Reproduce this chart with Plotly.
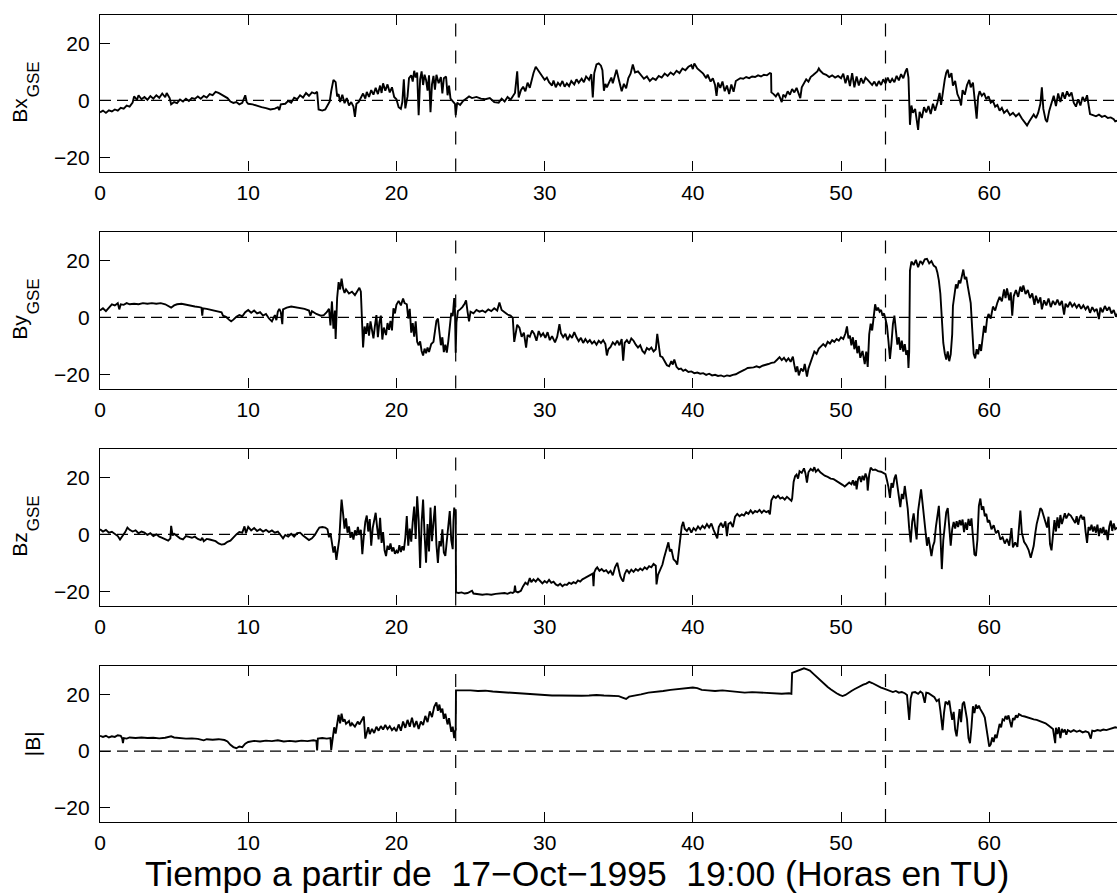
import plotly.graph_objects as go

# ---- Magnetic field components (nT) versus hours since 17-Oct-1995 19:00 ----
bx_samples = [
    (0.0, -4.2), (0.2, -3.6), (0.4, -4.4), (0.6, -3.5), (0.8, -3.9), (1.0, -3.2), (1.2, -3.6), (1.4, -2.6),
    (1.6, -2.9), (1.8, -1.8), (2.0, -2.2), (2.2, -0.8), (2.3, 1.4), (2.5, 0.2), (2.6, 1.8), (2.8, 0.4),
    (3.0, 1.2), (3.2, 0.2), (3.4, 1.5), (3.6, 0.6), (3.8, 1.8), (4.0, 0.9), (4.2, 2.4), (4.4, 1.1),
    (4.5, 2.6), (4.7, 0.8), (4.8, -1.4), (5.0, -0.6), (5.2, -1.0), (5.4, 0.3), (5.6, -0.4), (5.8, 0.6),
    (6.0, -0.2), (6.2, 0.8), (6.4, 0.5), (6.6, 1.4), (6.8, 0.6), (7.0, 1.6), (7.2, 1.0), (7.4, 2.2),
    (7.6, 1.8), (7.8, 3.0), (8.0, 2.6), (8.2, 2.0), (8.4, 1.4), (8.6, 0.8), (8.8, -0.4), (9.0, -0.9),
    (9.2, -0.6), (9.4, -1.4), (9.6, -0.9), (9.8, 1.8), (9.9, -0.6), (10.0, -1.2), (10.3, -1.4), (10.6, -2.0),
    (10.9, -2.4), (11.2, -2.7), (11.5, -3.2), (11.8, -2.9), (12.0, -2.4), (12.1, -3.4), (12.2, -1.4), (12.5, -1.2),
    (12.7, -0.2), (12.9, -0.8), (13.1, 0.9), (13.3, 0.4), (13.5, 1.8), (13.7, 1.0), (13.9, 2.6), (14.1, 1.6),
    (14.3, 2.8), (14.5, 2.4), (14.65, 3.0), (14.75, -3.2), (15.0, -3.6), (15.2, -3.2), (15.35, -1.8), (15.5, -0.4),
    (15.6, 3.2), (15.75, 7.2), (15.9, 6.4), (16.0, 1.4), (16.1, 2.2), (16.2, -0.6), (16.35, 2.0), (16.5, -1.0),
    (16.65, 0.8), (16.8, -1.8), (16.95, -0.6), (17.1, -2.2), (17.2, -5.8), (17.3, -1.2), (17.45, -0.6), (17.6, 0.8),
    (17.75, 2.4), (17.9, 0.6), (18.0, 3.0), (18.15, 1.2), (18.3, 3.6), (18.45, 2.0), (18.6, 4.4), (18.75, 2.2),
    (18.9, 5.2), (19.0, 2.6), (19.1, 6.0), (19.25, 3.4), (19.4, 5.6), (19.55, 2.8), (19.7, 4.6), (19.85, 1.2),
    (20.0, 0.4), (20.15, -2.4), (20.3, -3.0), (20.4, -0.6), (20.5, 7.4), (20.6, -2.8), (20.75, 1.4), (20.85, 7.8),
    (21.0, 8.8), (21.1, 6.6), (21.2, 10.4), (21.3, 8.0), (21.4, 9.8), (21.5, -5.2), (21.6, 7.4), (21.7, 10.2),
    (21.8, 5.4), (21.9, 9.0), (22.0, 7.2), (22.1, 3.4), (22.2, 8.8), (22.3, -4.2), (22.4, 5.6), (22.5, 8.6),
    (22.6, 3.8), (22.7, 9.0), (22.85, 6.0), (23.0, 8.2), (23.1, 2.4), (23.2, 7.8), (23.35, 8.4), (23.45, 1.8),
    (23.55, 5.2), (23.65, 0.6), (23.8, -0.4), (23.95, -1.2), (24.0, -5.2), (24.1, -0.8), (24.3, -1.6), (24.5, -0.2),
    (24.7, 0.6), (24.9, 1.4), (25.1, 0.8), (25.4, 1.2), (25.7, 0.6), (26.0, 0.4), (26.3, 0.8), (26.6, -0.6),
    (26.9, -0.8), (27.1, 0.6), (27.3, -0.4), (27.5, 1.2), (27.7, 0.2), (27.9, 1.8), (28.0, 2.6), (28.15, 10.2),
    (28.25, 1.0), (28.4, 3.6), (28.55, 4.8), (28.7, 3.2), (28.85, 6.2), (29.0, 4.4), (29.1, 6.8), (29.25, 9.6),
    (29.4, 11.8), (29.55, 10.6), (29.7, 9.4), (29.85, 8.6), (30.0, 7.2), (30.15, 8.0), (30.3, 6.4), (30.5, 5.2),
    (30.6, 7.0), (30.75, 4.6), (30.9, 6.2), (31.05, 5.2), (31.2, 6.8), (31.35, 4.8), (31.5, 6.0), (31.65, 5.0),
    (31.8, 6.8), (32.0, 5.6), (32.15, 7.4), (32.3, 6.2), (32.5, 7.6), (32.65, 6.4), (32.8, 8.4), (33.0, 7.2),
    (33.15, 9.2), (33.25, 1.0), (33.35, 9.6), (33.5, 12.6), (33.65, 13.0), (33.8, 12.2), (33.9, 10.6), (34.0, 3.4),
    (34.1, 5.8), (34.2, 4.6), (34.35, 6.4), (34.5, 8.0), (34.6, 6.0), (34.75, 9.2), (34.85, 10.8), (35.0, 7.4),
    (35.1, 5.2), (35.2, 3.2), (35.35, 5.8), (35.5, 4.2), (35.65, 7.8), (35.8, 9.4), (35.95, 12.6), (36.1, 9.8),
    (36.3, 10.2), (36.5, 8.8), (36.7, 7.6), (36.9, 8.4), (37.1, 6.8), (37.3, 7.8), (37.5, 7.2), (37.7, 8.6),
    (37.9, 8.0), (38.1, 9.4), (38.3, 8.6), (38.5, 9.8), (38.7, 9.0), (38.9, 10.4), (39.1, 9.6), (39.3, 11.2),
    (39.5, 10.6), (39.7, 11.8), (39.9, 12.4), (40.0, 11.0), (40.1, 13.0), (40.3, 11.2), (40.5, 10.2), (40.7, 9.4),
    (40.9, 7.8), (41.0, 9.0), (41.2, 6.6), (41.35, 7.8), (41.5, 5.4), (41.6, 1.6), (41.7, 6.2), (41.85, 4.4),
    (42.0, 6.6), (42.15, 3.2), (42.3, 5.2), (42.45, 2.2), (42.6, 5.6), (42.75, 3.0), (42.9, 6.8), (43.05, 7.2),
    (43.2, 7.8), (43.4, 7.6), (43.6, 8.2), (43.8, 7.8), (44.0, 8.4), (44.2, 8.2), (44.4, 8.8), (44.6, 8.4),
    (44.8, 9.0), (45.0, 8.8), (45.2, 9.6), (45.28, 9.4), (45.3, 2.8), (45.45, 2.2), (45.6, 1.4), (45.75, 2.6),
    (45.9, 0.8), (46.0, -0.6), (46.1, 2.0), (46.25, 1.2), (46.4, 3.2), (46.55, 2.0), (46.7, 4.0), (46.85, 2.8),
    (47.0, 4.4), (47.1, 3.0), (47.25, 0.8), (47.35, 4.6), (47.5, 6.0), (47.65, 7.4), (47.8, 6.6), (47.95, 8.2),
    (48.1, 8.8), (48.25, 9.6), (48.4, 10.2), (48.5, 11.2), (48.6, 10.4), (48.8, 9.4), (49.0, 9.0), (49.2, 8.2),
    (49.4, 8.8), (49.6, 8.0), (49.8, 8.6), (50.0, 7.8), (50.15, 9.4), (50.3, 6.0), (50.45, 8.8), (50.6, 5.0),
    (50.75, 9.6), (50.9, 4.6), (51.05, 8.4), (51.2, 5.2), (51.35, 7.8), (51.5, 6.0), (51.65, 8.0), (51.8, 7.2),
    (51.95, 6.2), (52.1, 5.4), (52.25, 6.6), (52.4, 5.0), (52.55, 6.8), (52.7, 5.4), (52.85, 7.4), (53.0, 6.0),
    (53.15, 8.0), (53.3, 6.2), (53.45, 7.6), (53.6, 6.4), (53.75, 8.6), (53.9, 7.0), (54.05, 9.2), (54.2, 7.8),
    (54.35, 10.2), (54.45, 11.2), (54.55, 8.0), (54.6, -0.6), (54.65, -8.6), (54.75, -1.8), (54.85, -4.4), (55.0, -3.0),
    (55.1, -6.0), (55.2, -10.4), (55.3, -4.0), (55.45, -6.2), (55.6, -2.4), (55.75, -4.2), (55.9, -2.0), (56.05, -4.8),
    (56.2, -1.2), (56.35, -3.6), (56.5, -0.8), (56.65, 2.6), (56.75, -1.6), (56.9, 4.8), (57.0, 7.4), (57.1, 9.8),
    (57.2, 10.8), (57.3, 8.0), (57.45, 9.6), (57.55, 5.2), (57.7, 6.8), (57.85, 2.2), (58.0, 0.4), (58.1, -1.8),
    (58.2, 3.6), (58.35, 2.0), (58.5, 5.4), (58.65, 7.2), (58.75, 4.6), (58.9, 6.2), (59.0, 2.0), (59.15, -6.4),
    (59.25, 1.2), (59.35, 3.2), (59.5, 1.6), (59.65, 2.6), (59.8, 0.4), (59.95, 1.4), (60.1, -0.8), (60.25, -0.2),
    (60.4, -2.2), (60.55, -1.6), (60.7, -3.6), (60.85, -2.6), (61.0, -4.4), (61.2, -3.4), (61.4, -5.2), (61.6, -4.4),
    (61.8, -5.6), (62.0, -4.6), (62.2, -6.4), (62.4, -7.6), (62.55, -8.8), (62.7, -7.4), (62.85, -6.2), (63.0, -5.0),
    (63.15, -6.2), (63.3, -4.4), (63.45, -1.2), (63.55, 4.6), (63.65, -3.0), (63.8, -6.8), (63.9, -7.6), (64.05, -3.6),
    (64.2, -1.0), (64.35, 1.6), (64.5, -2.0), (64.65, 2.4), (64.8, -0.6), (64.95, 2.8), (65.1, 0.6), (65.25, 3.2),
    (65.4, 1.4), (65.55, 2.8), (65.7, -0.8), (65.85, -2.2), (66.0, 0.4), (66.15, -1.8), (66.3, 1.2), (66.45, -0.4),
    (66.6, 1.8), (66.7, -2.0), (66.8, -4.8), (67.0, -5.2), (67.2, -5.6), (67.4, -5.0), (67.6, -5.8), (67.8, -5.4),
    (68.0, -6.2), (68.2, -6.0), (68.4, -6.6), (68.5, -7.4), (68.7, -7.0), (69.0, -7.2),
]

by_samples = [
    (0.0, 2.4), (0.2, 3.2), (0.4, 2.2), (0.6, 3.6), (0.8, 4.6), (1.0, 4.2), (1.2, 5.0), (1.3, 2.8),
    (1.4, 4.6), (1.6, 4.4), (1.8, 5.0), (2.0, 4.6), (2.3, 4.8), (2.6, 4.6), (2.9, 5.0), (3.2, 4.8),
    (3.5, 5.0), (3.8, 4.8), (4.1, 5.0), (4.4, 4.6), (4.6, 4.0), (4.8, 3.4), (5.0, 4.2), (5.2, 4.6),
    (5.5, 4.8), (5.8, 4.4), (6.1, 4.2), (6.4, 3.8), (6.7, 3.6), (6.85, 3.4), (6.9, 0.6), (6.95, 3.2),
    (7.2, 3.0), (7.5, 2.6), (7.8, 2.4), (8.0, 2.2), (8.2, 1.8), (8.3, 0.6), (8.5, 0.2), (8.7, -0.8),
    (8.85, -1.4), (9.0, -0.8), (9.2, 0.2), (9.4, 0.8), (9.6, 0.4), (9.8, 1.8), (10.0, 2.6), (10.2, 1.6),
    (10.4, 2.4), (10.6, 1.4), (10.8, 1.8), (11.0, 0.6), (11.2, 1.2), (11.4, -0.4), (11.6, -1.4), (11.8, 0.8),
    (11.9, -1.0), (12.0, 2.0), (12.1, 3.0), (12.2, 1.8), (12.3, -2.4), (12.35, 2.8), (12.6, 3.4), (12.9, 3.8),
    (13.2, 3.6), (13.5, 3.4), (13.8, 3.0), (14.1, 2.4), (14.2, 0.6), (14.3, 2.2), (14.6, 1.2), (14.9, 0.6),
    (15.1, 0.8), (15.3, 1.8), (15.45, 3.0), (15.55, -2.8), (15.65, 5.6), (15.75, -4.0), (15.85, 2.4), (15.9, -7.6),
    (16.0, 6.8), (16.1, 12.4), (16.2, 9.8), (16.3, 13.6), (16.4, 10.2), (16.5, 8.6), (16.6, 9.8), (16.8, 8.4),
    (17.0, 9.0), (17.2, 7.8), (17.4, 9.6), (17.5, 10.4), (17.6, 9.0), (17.65, 0.4), (17.75, -10.6), (17.85, -3.2),
    (17.95, -5.8), (18.05, -2.0), (18.15, -6.4), (18.25, -1.4), (18.35, -4.8), (18.45, -7.4), (18.55, -3.0), (18.65, 0.8),
    (18.75, -7.0), (18.85, -1.8), (18.95, 0.6), (19.05, -7.8), (19.15, -3.6), (19.3, -6.2), (19.4, -2.0), (19.5, -4.4),
    (19.6, -1.2), (19.7, -4.6), (19.8, 3.2), (19.9, 1.4), (20.0, 4.4), (20.15, 5.8), (20.3, 4.2), (20.45, 6.6),
    (20.55, 5.0), (20.7, 4.6), (20.8, -0.4), (20.9, 3.0), (21.0, -5.4), (21.1, -2.0), (21.2, -6.8), (21.3, -1.4),
    (21.4, -8.6), (21.5, -9.8), (21.6, -8.4), (21.7, -11.8), (21.8, -13.4), (21.9, -11.0), (22.0, -12.6), (22.1, -10.6),
    (22.2, -12.2), (22.35, -9.4), (22.5, -8.6), (22.6, -5.2), (22.7, -1.2), (22.8, -0.4), (22.9, -5.6), (23.0, -9.8),
    (23.1, -7.0), (23.2, -12.2), (23.3, -9.6), (23.4, -12.4), (23.5, -8.4), (23.6, -3.6), (23.7, 1.6), (23.8, 0.4),
    (23.9, 6.8), (23.95, 2.4), (24.0, -12.4), (24.05, -1.8), (24.15, 2.2), (24.3, 2.8), (24.45, 3.6), (24.6, 4.8),
    (24.7, 6.0), (24.8, 2.0), (24.9, -1.4), (25.0, 2.0), (25.2, 1.4), (25.4, 2.6), (25.6, 2.0), (25.8, 2.4),
    (26.0, 1.8), (26.2, 2.8), (26.4, 2.2), (26.6, 3.2), (26.8, 2.4), (26.95, 5.2), (27.1, 2.6), (27.3, 1.8),
    (27.5, 1.0), (27.7, 0.6), (27.85, -0.2), (27.95, -8.6), (28.05, -4.8), (28.15, -2.6), (28.3, -3.6), (28.45, -6.8),
    (28.6, -5.4), (28.75, -10.6), (28.85, -6.2), (29.0, -6.8), (29.15, -4.6), (29.3, -5.8), (29.45, -8.2), (29.6, -4.8),
    (29.75, -6.6), (29.9, -5.6), (30.05, -7.2), (30.2, -5.2), (30.35, -8.0), (30.5, -6.6), (30.7, -8.8), (30.85, -6.8),
    (31.0, -2.4), (31.1, -5.6), (31.25, -7.0), (31.4, -5.8), (31.55, -8.0), (31.7, -6.2), (31.85, -7.2), (32.0, -5.2),
    (32.15, -7.0), (32.3, -8.4), (32.45, -7.2), (32.6, -9.0), (32.75, -7.6), (32.9, -8.8), (33.05, -8.0), (33.2, -9.2),
    (33.35, -8.4), (33.5, -9.6), (33.65, -8.2), (33.8, -9.0), (33.95, -8.0), (34.1, -9.4), (34.2, -13.4), (34.3, -11.2),
    (34.45, -10.4), (34.6, -8.8), (34.75, -9.6), (34.9, -8.2), (35.05, -9.8), (35.2, -7.6), (35.3, -15.2), (35.4, -9.0),
    (35.55, -8.0), (35.7, -9.2), (35.85, -7.4), (36.0, -8.2), (36.15, -9.6), (36.3, -10.6), (36.45, -9.8), (36.6, -11.8),
    (36.75, -12.6), (36.9, -10.8), (37.05, -11.4), (37.2, -10.6), (37.35, -12.0), (37.5, -11.2), (37.6, -5.8), (37.7, -10.4),
    (37.8, -13.6), (37.95, -14.0), (38.1, -15.6), (38.25, -16.8), (38.4, -17.2), (38.55, -15.4), (38.65, -16.6), (38.75, -14.8),
    (38.9, -17.4), (39.05, -18.2), (39.2, -18.0), (39.35, -18.8), (39.5, -18.4), (39.7, -19.2), (39.9, -19.0), (40.1, -19.6),
    (40.3, -19.4), (40.5, -19.8), (40.7, -19.6), (40.9, -20.2), (41.1, -19.8), (41.3, -20.4), (41.5, -20.2), (41.7, -20.6),
    (41.9, -20.4), (42.1, -20.8), (42.3, -20.4), (42.5, -20.6), (42.7, -20.2), (42.9, -20.0), (43.1, -19.4), (43.3, -19.0),
    (43.5, -18.4), (43.7, -17.8), (43.9, -17.8), (44.1, -17.6), (44.3, -17.2), (44.5, -17.6), (44.7, -17.0), (44.9, -16.8),
    (45.1, -16.4), (45.3, -16.0), (45.5, -15.8), (45.7, -14.8), (45.85, -14.0), (46.0, -15.0), (46.15, -14.2), (46.3, -15.4),
    (46.45, -14.4), (46.6, -15.6), (46.75, -13.8), (46.85, -16.8), (46.95, -19.2), (47.05, -17.2), (47.15, -20.4), (47.3, -18.0),
    (47.45, -19.0), (47.55, -16.4), (47.7, -20.8), (47.8, -18.0), (47.9, -16.6), (48.0, -15.0), (48.1, -13.4), (48.2, -12.0),
    (48.35, -12.8), (48.5, -11.0), (48.65, -10.2), (48.8, -9.4), (48.95, -10.2), (49.1, -8.6), (49.25, -9.2), (49.4, -8.0),
    (49.55, -8.6), (49.7, -7.6), (49.85, -8.2), (50.0, -7.0), (50.15, -7.6), (50.3, -5.6), (50.4, -3.2), (50.5, -7.4),
    (50.6, -6.4), (50.7, -9.8), (50.8, -7.0), (50.9, -11.2), (51.0, -8.0), (51.1, -12.6), (51.2, -10.0), (51.3, -14.2),
    (51.45, -11.8), (51.6, -16.4), (51.7, -12.0), (51.8, -17.4), (51.9, -6.0), (52.0, -2.2), (52.1, -4.6), (52.2, 1.4),
    (52.3, 4.6), (52.4, 2.4), (52.5, 3.4), (52.6, 2.0), (52.7, 2.6), (52.8, 0.6), (52.9, 1.4), (53.0, -0.6),
    (53.1, -3.0), (53.2, -8.4), (53.3, -14.6), (53.4, -9.2), (53.5, -2.4), (53.6, 0.6), (53.7, -4.4), (53.8, -9.6),
    (53.9, -7.0), (54.0, -11.4), (54.1, -8.2), (54.2, -12.0), (54.3, -9.4), (54.4, -13.2), (54.5, -11.6), (54.55, -17.8),
    (54.6, -12.0), (54.65, 16.4), (54.75, 19.6), (54.9, 18.4), (55.05, 20.2), (55.2, 17.6), (55.35, 19.8), (55.5, 18.8),
    (55.65, 20.4), (55.8, 20.6), (55.95, 19.0), (56.1, 19.8), (56.25, 18.2), (56.4, 17.6), (56.5, 15.8), (56.6, 13.0),
    (56.7, 8.4), (56.75, 3.0), (56.8, -2.0), (56.9, -9.0), (57.0, -12.6), (57.1, -14.8), (57.2, -12.0), (57.3, -15.4),
    (57.4, -13.0), (57.5, -6.0), (57.55, 4.0), (57.65, 8.8), (57.75, 11.6), (57.85, 10.2), (57.95, 13.0), (58.05, 12.0),
    (58.15, 14.8), (58.25, 16.8), (58.35, 13.4), (58.45, 14.2), (58.55, 11.0), (58.65, 8.2), (58.75, 5.0), (58.85, -4.0),
    (58.95, -12.8), (59.05, -14.4), (59.15, -11.2), (59.25, -13.0), (59.35, -9.4), (59.45, -11.8), (59.55, -6.0), (59.65, -3.0),
    (59.75, -5.4), (59.85, -0.6), (59.95, 1.2), (60.1, -0.4), (60.25, 3.8), (60.4, 2.4), (60.55, 5.2), (60.7, 7.2),
    (60.85, 5.6), (61.0, 9.8), (61.1, 6.8), (61.2, 10.2), (61.35, 6.0), (61.45, 8.8), (61.55, 0.6), (61.65, 7.4),
    (61.8, 9.6), (61.95, 7.2), (62.1, 10.8), (62.2, 9.0), (62.3, 11.2), (62.45, 8.2), (62.6, 9.6), (62.75, 6.8),
    (62.9, 8.4), (63.05, 4.4), (63.15, 7.6), (63.3, 5.0), (63.45, 7.0), (63.55, 2.8), (63.7, 6.0), (63.85, 4.2),
    (64.0, 6.6), (64.15, 3.6), (64.3, 5.8), (64.45, 4.4), (64.6, 6.2), (64.75, 4.2), (64.9, 5.8), (65.05, 1.0),
    (65.15, 4.8), (65.3, 3.6), (65.45, 5.4), (65.6, 3.8), (65.75, 4.8), (65.9, 3.4), (66.05, 4.6), (66.2, 3.0),
    (66.35, 4.2), (66.5, 2.8), (66.65, 4.0), (66.8, 1.6), (66.95, 3.6), (67.1, 2.2), (67.25, 3.0), (67.4, -0.6),
    (67.5, 3.4), (67.65, 1.8), (67.8, 4.0), (67.95, 2.4), (68.1, 3.6), (68.25, 1.4), (68.4, 2.6), (68.55, 0.2),
    (68.7, 1.8), (69.0, 0.8),
]

bz_samples = [
    (0.0, 1.8), (0.2, 1.0), (0.4, 1.6), (0.6, 0.6), (0.8, 0.9), (1.0, 0.2), (1.2, -0.6), (1.35, -1.8),
    (1.5, -0.8), (1.7, 0.8), (1.85, 2.4), (2.0, 1.6), (2.2, 1.0), (2.4, 1.4), (2.6, 0.4), (2.8, 1.0),
    (3.0, 0.6), (3.2, -0.2), (3.4, 0.4), (3.6, -0.6), (3.8, 0.0), (4.0, -0.8), (4.2, -1.2), (4.4, -1.6),
    (4.6, -2.2), (4.75, -1.4), (4.8, 3.0), (4.9, -0.4), (5.0, 0.2), (5.2, -0.6), (5.4, -1.4), (5.6, -1.8),
    (5.8, -0.6), (6.0, -0.9), (6.2, -1.2), (6.4, -0.8), (6.6, -1.6), (6.8, -2.0), (6.9, -1.2), (7.0, -2.4),
    (7.2, -1.6), (7.4, -1.8), (7.6, -2.2), (7.8, -2.4), (8.0, -3.2), (8.2, -3.6), (8.4, -3.4), (8.6, -2.6),
    (8.8, -2.2), (9.0, -1.0), (9.2, 0.0), (9.4, 0.8), (9.6, 0.6), (9.75, 2.8), (9.85, 0.4), (10.0, 2.6),
    (10.2, 1.4), (10.4, 2.2), (10.6, 1.2), (10.8, 1.8), (11.0, 1.0), (11.2, 1.6), (11.4, 0.8), (11.6, 1.4),
    (11.8, 0.6), (12.0, 1.0), (12.2, -0.6), (12.35, -1.4), (12.5, -0.2), (12.7, -0.8), (12.9, 0.2), (13.1, -0.8),
    (13.3, 0.4), (13.5, 0.6), (13.7, -0.4), (13.9, -1.2), (14.1, -2.0), (14.3, -1.4), (14.5, -0.2), (14.65, 1.2),
    (14.8, 2.4), (15.0, 2.6), (15.2, 2.4), (15.35, 1.8), (15.45, -1.0), (15.55, 0.4), (15.65, -2.6), (15.75, -6.4),
    (15.85, -4.2), (15.95, -9.0), (16.05, -5.2), (16.15, -1.4), (16.25, 8.2), (16.3, 12.2), (16.4, 7.4), (16.5, 2.0),
    (16.6, 5.6), (16.7, 0.6), (16.8, 2.8), (16.9, -1.2), (17.0, 0.8), (17.1, -1.8), (17.2, 1.4), (17.3, -0.4),
    (17.4, 2.6), (17.5, -0.2), (17.6, 1.6), (17.7, -7.0), (17.8, -0.6), (17.9, 4.4), (18.0, 6.6), (18.1, 1.0),
    (18.2, 5.4), (18.3, -4.0), (18.4, 2.2), (18.5, 4.6), (18.6, 7.6), (18.7, 2.4), (18.8, -1.8), (18.9, 5.8),
    (19.0, -3.0), (19.1, 0.8), (19.2, -5.6), (19.3, -7.6), (19.4, -4.0), (19.5, -5.4), (19.6, -3.2), (19.7, -6.0),
    (19.8, -4.6), (19.9, -6.8), (20.0, -5.8), (20.1, -6.6), (20.2, -3.8), (20.3, -6.2), (20.4, -4.2), (20.5, -5.6),
    (20.6, -1.2), (20.7, 6.4), (20.8, -4.0), (20.9, 2.0), (21.0, -2.6), (21.1, 4.4), (21.2, 9.8), (21.3, -1.6),
    (21.4, 13.4), (21.5, 5.0), (21.6, -11.8), (21.7, 4.0), (21.8, 12.2), (21.9, 0.0), (22.0, -10.0), (22.1, 3.6),
    (22.2, -6.0), (22.3, 9.4), (22.4, -2.4), (22.5, 4.2), (22.6, 10.0), (22.7, -3.6), (22.8, -10.0), (22.9, -2.4),
    (23.0, -4.2), (23.1, 1.8), (23.2, -6.4), (23.3, -7.6), (23.4, -3.0), (23.5, 2.2), (23.6, 8.2), (23.7, -2.0),
    (23.8, -5.2), (23.85, 4.8), (23.9, 9.4), (23.95, 7.6), (24.0, 8.8), (24.02, -20.4), (24.2, -20.6), (24.4, -20.4),
    (24.6, -20.8), (24.8, -20.6), (25.0, -20.2), (25.1, -19.8), (25.2, -20.8), (25.5, -21.0), (25.8, -21.2), (26.1, -21.0),
    (26.4, -21.2), (26.7, -20.9), (27.0, -20.8), (27.3, -20.6), (27.5, -20.9), (27.7, -20.4), (27.85, -20.6), (27.95, -20.2),
    (28.0, -18.0), (28.05, -20.0), (28.2, -20.4), (28.4, -19.8), (28.55, -18.2), (28.7, -17.0), (28.85, -17.6), (29.0, -15.4),
    (29.1, -16.8), (29.25, -15.8), (29.4, -16.6), (29.55, -15.6), (29.7, -16.4), (29.85, -17.2), (30.0, -16.4), (30.15, -17.0),
    (30.3, -16.0), (30.45, -17.0), (30.6, -16.6), (30.75, -17.6), (30.9, -18.0), (31.05, -17.4), (31.2, -18.2), (31.35, -17.6),
    (31.5, -17.8), (31.65, -17.0), (31.8, -17.4), (31.95, -16.8), (32.1, -17.2), (32.25, -16.2), (32.4, -16.6), (32.55, -15.8),
    (32.7, -15.4), (32.85, -15.0), (33.0, -14.6), (33.15, -14.2), (33.25, -13.8), (33.3, -18.2), (33.35, -13.4), (33.45, -12.2),
    (33.55, -11.6), (33.7, -12.8), (33.85, -12.2), (34.0, -13.0), (34.15, -12.6), (34.3, -13.6), (34.45, -12.8), (34.6, -14.4),
    (34.75, -11.6), (34.9, -10.0), (35.0, -12.6), (35.1, -14.6), (35.2, -15.8), (35.3, -16.6), (35.4, -14.0), (35.55, -12.4),
    (35.7, -13.6), (35.85, -12.4), (36.0, -13.2), (36.15, -12.2), (36.3, -12.8), (36.45, -12.0), (36.6, -12.6), (36.75, -11.6),
    (36.9, -12.2), (37.05, -11.2), (37.2, -11.6), (37.35, -10.4), (37.5, -11.0), (37.55, -17.6), (37.65, -14.2), (37.8, -12.4),
    (37.95, -10.6), (38.05, -8.4), (38.15, -6.4), (38.25, -4.0), (38.35, -2.8), (38.45, -6.0), (38.55, -5.2), (38.7, -8.8),
    (38.85, -9.6), (38.95, -10.6), (39.05, -6.0), (39.15, -1.4), (39.25, 2.8), (39.35, 4.4), (39.45, 2.0), (39.6, 1.2),
    (39.75, 2.4), (39.9, 0.6), (40.05, 2.2), (40.2, 1.4), (40.35, 2.8), (40.5, 1.8), (40.65, 3.0), (40.8, 2.2),
    (40.95, 3.6), (41.1, 2.4), (41.25, 3.8), (41.4, 1.6), (41.55, -0.4), (41.65, -1.4), (41.75, 2.6), (41.9, 4.0),
    (42.05, 2.4), (42.2, 4.6), (42.3, -0.6), (42.4, 3.6), (42.55, 4.2), (42.7, 2.6), (42.85, 6.2), (43.0, 7.2),
    (43.15, 6.4), (43.3, 7.0), (43.45, 6.6), (43.6, 7.8), (43.75, 7.2), (43.9, 8.4), (44.05, 7.4), (44.2, 8.2),
    (44.35, 7.8), (44.5, 8.6), (44.65, 7.6), (44.8, 8.4), (44.95, 7.8), (45.1, 8.2), (45.2, 7.0), (45.3, 12.0),
    (45.45, 13.4), (45.6, 12.8), (45.75, 13.6), (45.9, 12.6), (46.05, 13.0), (46.2, 12.2), (46.35, 13.2), (46.5, 12.4),
    (46.65, 11.8), (46.7, 12.6), (46.8, 18.4), (46.9, 20.4), (47.0, 21.0), (47.1, 19.6), (47.2, 22.2), (47.35, 21.6),
    (47.5, 23.2), (47.6, 21.4), (47.7, 18.2), (47.8, 21.8), (47.95, 23.0), (48.1, 22.4), (48.2, 23.6), (48.3, 22.0),
    (48.45, 22.8), (48.6, 21.8), (48.75, 21.2), (48.9, 20.6), (49.1, 20.2), (49.3, 19.6), (49.5, 19.4), (49.7, 18.8),
    (49.9, 18.0), (50.1, 17.4), (50.25, 16.8), (50.4, 17.4), (50.55, 18.2), (50.7, 17.6), (50.8, 19.0), (50.9, 17.2),
    (51.0, 18.8), (51.05, 15.8), (51.15, 19.4), (51.25, 20.4), (51.35, 18.4), (51.45, 20.6), (51.55, 19.0), (51.65, 21.4),
    (51.75, 19.8), (51.8, 15.4), (51.9, 21.0), (52.0, 23.4), (52.15, 22.6), (52.3, 22.8), (52.5, 22.2), (52.7, 22.0),
    (52.85, 21.6), (53.0, 21.2), (53.1, 19.0), (53.2, 16.6), (53.3, 12.8), (53.4, 18.0), (53.5, 16.4), (53.6, 19.6),
    (53.7, 21.0), (53.8, 17.2), (53.9, 14.6), (54.0, 9.6), (54.1, 14.2), (54.2, 12.4), (54.3, 17.0), (54.4, 13.8),
    (54.5, 9.0), (54.6, 2.0), (54.7, -2.8), (54.8, 4.4), (54.9, 7.4), (55.0, 2.6), (55.1, -1.8), (55.2, 8.2),
    (55.3, 12.6), (55.4, 15.8), (55.5, 11.0), (55.6, 6.0), (55.7, 2.4), (55.8, -4.0), (55.9, -1.0), (56.0, -5.0),
    (56.1, -7.6), (56.2, -4.2), (56.3, -2.6), (56.4, 2.6), (56.5, 6.4), (56.6, 10.0), (56.7, 0.4), (56.8, -12.2),
    (56.9, -2.0), (57.0, 3.6), (57.1, 7.8), (57.2, 9.2), (57.3, 2.4), (57.4, -4.0), (57.5, 1.8), (57.6, 4.4),
    (57.7, 2.0), (57.8, 4.6), (57.9, 2.6), (58.0, 5.0), (58.1, 3.2), (58.2, 5.2), (58.3, 0.8), (58.4, 4.2),
    (58.5, 1.6), (58.6, 5.4), (58.7, 3.0), (58.8, 5.6), (58.9, -0.8), (59.0, -7.0), (59.1, -7.6), (59.2, -2.0),
    (59.3, 10.0), (59.4, 12.6), (59.5, 8.6), (59.6, 9.8), (59.7, 6.4), (59.8, 7.2), (59.9, 4.2), (60.0, 5.0),
    (60.15, 1.8), (60.3, 3.2), (60.45, 0.4), (60.6, 1.4), (60.75, -1.8), (60.9, -1.0), (61.05, -3.2), (61.2, -1.6),
    (61.35, -4.0), (61.5, 2.2), (61.6, -4.6), (61.75, -2.8), (61.9, -4.4), (62.0, 1.4), (62.1, 8.4), (62.2, 0.6),
    (62.35, -2.6), (62.5, -3.8), (62.65, -5.4), (62.8, -8.2), (62.9, -6.0), (63.0, -4.0), (63.1, 0.2), (63.2, 3.6),
    (63.35, 6.8), (63.45, 9.2), (63.55, 8.6), (63.7, 6.0), (63.8, 5.0), (63.9, 2.4), (64.0, 6.2), (64.1, -3.4),
    (64.2, -5.6), (64.3, -0.4), (64.4, 5.0), (64.5, 1.0), (64.6, 6.0), (64.7, 2.2), (64.8, 6.8), (64.9, 3.6),
    (65.0, 5.6), (65.1, 7.4), (65.2, 5.6), (65.35, 7.2), (65.5, 6.6), (65.65, 5.4), (65.8, 4.0), (65.9, 6.4),
    (66.0, 3.4), (66.1, 5.8), (66.2, 6.8), (66.3, 5.2), (66.4, 6.2), (66.5, 1.0), (66.6, -3.0), (66.7, 2.6),
    (66.8, 1.4), (66.9, 3.4), (67.0, 1.0), (67.1, 2.8), (67.2, 0.6), (67.3, 3.4), (67.4, -0.6), (67.5, 2.2),
    (67.6, 0.4), (67.7, 2.6), (67.8, -0.2), (67.9, 1.6), (68.0, -2.0), (68.1, 2.8), (68.2, 4.8), (68.3, 1.2),
    (68.4, 3.8), (68.5, 1.8), (68.7, 2.6), (69.0, 1.4),
]

bmag_samples = [
    (0.0, 5.4), (0.2, 5.0), (0.4, 5.4), (0.6, 4.8), (0.8, 5.2), (1.0, 5.0), (1.2, 5.6), (1.4, 5.4),
    (1.5, 4.4), (1.55, 2.8), (1.6, 4.6), (1.8, 4.4), (2.0, 4.8), (2.4, 4.6), (2.8, 4.8), (3.2, 4.6),
    (3.6, 4.7), (4.0, 4.5), (4.4, 4.7), (4.8, 5.2), (5.0, 4.8), (5.4, 4.6), (5.8, 4.4), (6.2, 4.5),
    (6.6, 4.3), (7.0, 3.8), (7.2, 4.2), (7.6, 4.0), (8.0, 4.2), (8.4, 3.9), (8.6, 3.4), (8.8, 2.2),
    (9.0, 1.4), (9.2, 1.0), (9.4, 1.6), (9.6, 1.4), (9.8, 2.6), (10.0, 3.2), (10.4, 3.6), (10.8, 3.4),
    (11.2, 3.7), (11.6, 3.5), (12.0, 3.8), (12.4, 3.4), (12.8, 3.6), (13.2, 3.4), (13.6, 3.7), (14.0, 3.5),
    (14.4, 3.8), (14.6, 3.6), (14.65, 0.2), (14.7, 4.4), (15.0, 4.6), (15.3, 4.4), (15.55, 4.6), (15.6, 0.4),
    (15.7, 4.2), (15.8, 8.4), (15.9, 6.2), (16.0, 10.6), (16.1, 12.8), (16.2, 9.8), (16.3, 13.2), (16.4, 10.4),
    (16.5, 11.2), (16.6, 9.6), (16.8, 10.6), (16.9, 8.8), (17.0, 9.8), (17.2, 8.6), (17.4, 10.4), (17.5, 9.4),
    (17.7, 11.4), (17.8, 12.2), (17.9, 4.4), (18.0, 6.2), (18.1, 8.4), (18.2, 6.0), (18.35, 7.8), (18.5, 6.4),
    (18.65, 8.6), (18.8, 7.2), (18.95, 8.8), (19.1, 7.6), (19.25, 9.2), (19.4, 7.8), (19.55, 8.8), (19.7, 7.4),
    (19.85, 8.2), (20.0, 7.0), (20.15, 9.4), (20.3, 7.2), (20.45, 10.4), (20.6, 8.2), (20.75, 11.0), (20.9, 8.6),
    (21.05, 11.8), (21.2, 8.4), (21.35, 10.6), (21.5, 7.8), (21.65, 10.4), (21.8, 9.2), (21.95, 12.4), (22.1, 10.2),
    (22.25, 14.0), (22.4, 12.0), (22.55, 15.6), (22.7, 17.2), (22.8, 14.2), (22.9, 16.4), (23.0, 13.6), (23.1, 15.0),
    (23.2, 11.4), (23.3, 13.2), (23.45, 9.4), (23.55, 11.6), (23.7, 6.8), (23.8, 8.6), (23.9, 4.6), (23.95, 6.8),
    (24.0, 7.6), (24.02, 21.4), (24.5, 21.5), (25.0, 21.4), (25.5, 21.2), (26.0, 21.3), (26.5, 21.0), (27.0, 20.8),
    (27.5, 20.6), (28.0, 20.6), (28.5, 20.4), (29.0, 20.0), (29.5, 19.8), (30.0, 19.8), (30.5, 19.6), (31.0, 19.6),
    (31.5, 19.5), (32.0, 19.6), (32.5, 19.5), (33.0, 19.6), (33.5, 19.8), (34.0, 19.6), (34.5, 19.4), (35.0, 19.4),
    (35.3, 18.8), (35.5, 18.4), (35.7, 19.2), (36.0, 19.6), (36.5, 20.0), (37.0, 20.6), (37.5, 20.8), (38.0, 21.2),
    (38.5, 21.6), (39.0, 21.8), (39.5, 22.2), (40.0, 22.4), (40.3, 22.2), (40.6, 21.6), (41.0, 21.4), (41.5, 21.2),
    (42.0, 21.4), (42.5, 21.2), (43.0, 20.8), (43.5, 20.6), (44.0, 20.8), (44.5, 20.6), (45.0, 20.4), (45.5, 20.4),
    (46.0, 20.2), (46.5, 20.4), (46.65, 20.2), (46.7, 27.6), (46.9, 28.0), (47.1, 28.2), (47.3, 28.8), (47.5, 29.2),
    (47.7, 28.8), (47.9, 28.4), (48.1, 27.4), (48.3, 26.4), (48.5, 25.4), (48.7, 24.4), (48.9, 23.6), (49.1, 22.6),
    (49.3, 21.8), (49.5, 21.0), (49.7, 20.4), (49.9, 19.8), (50.1, 19.4), (50.3, 19.8), (50.5, 20.6), (50.7, 21.2),
    (50.9, 21.8), (51.1, 22.4), (51.3, 22.8), (51.5, 23.4), (51.7, 23.8), (51.9, 24.4), (52.1, 24.0), (52.3, 23.4),
    (52.5, 23.0), (52.7, 22.4), (52.9, 22.0), (53.1, 21.6), (53.3, 21.4), (53.5, 20.8), (53.7, 21.2), (53.9, 20.6),
    (54.1, 20.8), (54.3, 20.4), (54.45, 19.8), (54.55, 14.0), (54.6, 11.0), (54.7, 18.6), (54.8, 20.6), (55.0, 20.8),
    (55.2, 20.2), (55.35, 21.0), (55.5, 20.4), (55.65, 17.0), (55.75, 20.6), (55.9, 20.4), (56.1, 19.8), (56.3, 19.0),
    (56.45, 17.6), (56.6, 18.2), (56.7, 14.4), (56.8, 9.0), (56.85, 7.4), (56.95, 13.6), (57.05, 17.4), (57.2, 16.6),
    (57.3, 17.8), (57.4, 14.2), (57.5, 11.0), (57.6, 13.8), (57.7, 7.6), (57.8, 5.2), (57.9, 9.6), (58.0, 14.8),
    (58.1, 10.2), (58.2, 16.6), (58.3, 17.4), (58.4, 14.0), (58.5, 11.2), (58.6, 4.6), (58.7, 2.8), (58.8, 8.4),
    (58.9, 15.8), (59.0, 13.4), (59.1, 16.4), (59.2, 15.0), (59.3, 16.0), (59.4, 14.8), (59.5, 14.0), (59.6, 13.0),
    (59.7, 11.8), (59.8, 8.2), (59.9, 4.6), (60.0, 1.6), (60.1, 2.4), (60.2, 4.8), (60.3, 3.2), (60.4, 5.8),
    (60.5, 4.6), (60.6, 7.8), (60.7, 9.6), (60.8, 8.4), (60.9, 11.2), (61.0, 10.8), (61.1, 12.4), (61.2, 11.2),
    (61.3, 12.6), (61.4, 10.4), (61.5, 8.4), (61.6, 11.6), (61.7, 11.0), (61.8, 12.6), (61.9, 11.8), (62.0, 13.0),
    (62.2, 12.4), (62.4, 12.2), (62.6, 11.8), (62.8, 11.6), (63.0, 11.2), (63.2, 11.0), (63.4, 10.6), (63.6, 10.2),
    (63.8, 9.8), (64.0, 9.0), (64.2, 8.4), (64.3, 7.8), (64.4, 4.4), (64.45, 2.8), (64.5, 8.2), (64.6, 6.0),
    (64.7, 8.4), (64.8, 4.6), (64.9, 7.8), (65.0, 6.6), (65.1, 7.6), (65.2, 5.8), (65.3, 7.4), (65.5, 6.8),
    (65.7, 7.4), (65.9, 6.8), (66.1, 7.2), (66.3, 6.6), (66.5, 7.0), (66.7, 6.6), (66.85, 4.4), (66.95, 7.2),
    (67.1, 7.0), (67.3, 7.4), (67.5, 7.2), (67.7, 7.6), (67.9, 7.4), (68.1, 7.8), (68.3, 8.0), (68.5, 8.4),
    (68.7, 8.2), (69.0, 8.4),
]

panel_series = [bx_samples, by_samples, bz_samples, bmag_samples]
panel_names = ["Bx", "By", "Bz", "|B|"]
panel_subscripts = ["GSE", "GSE", "GSE", ""]
x_ticks = [0, 10, 20, 30, 40, 50, 60]
y_ticks = [-20, 0, 20]
x_span = [0, 68.62]
y_span = [-25, 30]
event_hours = [24, 53]
x_title = "Tiempo a partir de  17\u2212Oct\u22121995  19:00 (Horas en TU)"

FONT = "Liberation Sans, Arial, Helvetica, sans-serif"
W, H = 1117, 895
M_LEFT, M_RIGHT, M_TOP, M_BOTTOM = 100, 0, 15, 73
plot_w = W - M_LEFT - M_RIGHT
plot_h = H - M_TOP - M_BOTTOM
panel_h = 156.5
panel_step = 217.0
TICK_SIZE = 21
LABEL_SIZE = 21
SUB_SIZE = 17
TITLE_SIZE = 35.5


def px_x(px):
    """Horizontal pixel position -> paper coordinate."""
    return (px - M_LEFT) / plot_w


def px_y(px):
    """Vertical pixel position (from top) -> paper coordinate."""
    return 1 - (px - M_TOP) / plot_h


fig = go.Figure()
layout = dict(
    width=W, height=H,
    margin=dict(l=M_LEFT, r=M_RIGHT, t=M_TOP, b=M_BOTTOM, pad=0),
    paper_bgcolor="white", plot_bgcolor="white",
    showlegend=False,
    font=dict(family=FONT, size=TICK_SIZE, color="black"),
)
shapes = []
annotations = []

for i, samples in enumerate(panel_series):
    n = i + 1
    xa = "x" if n == 1 else f"x{n}"
    ya = "y" if n == 1 else f"y{n}"
    top_px = M_TOP + panel_step * i
    bottom_px = top_px + panel_h
    top = min(1.0, px_y(top_px))
    bottom = max(0.0, px_y(bottom_px))
    hours = [s[0] for s in samples]
    values = [s[1] for s in samples]

    fig.add_trace(go.Scatter(
        x=hours, y=values, mode="lines",
        line=dict(color="black", width=1.9),
        xaxis=xa, yaxis=ya, hoverinfo="skip",
    ))

    axis_common = dict(
        showgrid=False, zeroline=False,
        showline=True, linecolor="black", linewidth=1.2,
        ticks="inside", ticklen=10, tickwidth=1, tickcolor="black",
        tickfont=dict(family=FONT, size=TICK_SIZE, color="black"),
        tickmode="array",
    )
    # bottom axis mirrored on top (the right edge of the box runs off the page)
    layout["xaxis" if n == 1 else f"xaxis{n}"] = dict(
        axis_common, mirror="ticks", domain=[0, 1], anchor=ya, range=x_span,
        tickvals=x_ticks, ticklabelstandoff=2,
    )
    layout["yaxis" if n == 1 else f"yaxis{n}"] = dict(
        axis_common, mirror=False, domain=[bottom, top], anchor=xa, range=y_span,
        tickvals=y_ticks, ticklabelstandoff=5,
    )

    # zero reference line
    shapes.append(dict(
        type="line", xref=f"{xa} domain", x0=0, x1=1, yref=ya, y0=0, y1=0,
        line=dict(color="black", width=1.1, dash="11px,6px"), layer="above",
    ))
    # event markers
    for h in event_hours:
        shapes.append(dict(
            type="line", xref=xa, x0=h, x1=h, yref=f"{ya} domain", y0=0, y1=1,
            line=dict(color="black", width=1.2, dash="13px,14px"), layer="above",
        ))

    # panel ylabel: rotated name with a lowered, smaller subscript
    mid_px = (top_px + bottom_px) / 2
    name, sub = panel_names[i], panel_subscripts[i]
    if sub:
        annotations.append(dict(
            text=name, textangle=-90, showarrow=False,
            xref="paper", x=px_x(20), xanchor="center",
            yref="paper", y=px_y(mid_px + 17.5), yanchor="middle",
            font=dict(family=FONT, size=LABEL_SIZE, color="black"),
        ))
        annotations.append(dict(
            text=sub, textangle=-90, showarrow=False,
            xref="paper", x=px_x(33), xanchor="center",
            yref="paper", y=px_y(mid_px - 14), yanchor="middle",
            font=dict(family=FONT, size=SUB_SIZE, color="black"),
        ))
    else:
        annotations.append(dict(
            text=name, textangle=-90, showarrow=False,
            xref="paper", x=px_x(32), xanchor="center",
            yref="paper", y=px_y(mid_px), yanchor="middle",
            font=dict(family=FONT, size=LABEL_SIZE, color="black"),
        ))

annotations.append(dict(
    text=x_title, showarrow=False,
    xref="paper", x=px_x(577), xanchor="center",
    yref="paper", y=px_y(874), yanchor="middle",
    font=dict(family=FONT, size=TITLE_SIZE, color="black"),
))

layout["shapes"] = shapes
layout["annotations"] = annotations
fig.update_layout(**layout)

fig.write_html("out.html", config={"displayModeBar": False})
